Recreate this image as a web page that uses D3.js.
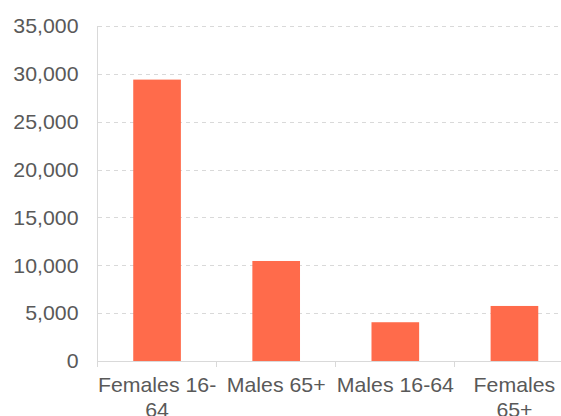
<!DOCTYPE html>
<html>
<head>
<meta charset="utf-8">
<script src="https://cdn.jsdelivr.net/npm/d3@7"></script>
<style>
  html, body { margin: 0; padding: 0; background: #fff; overflow: hidden; }
  svg { display: block; }
  text { font-family: "Liberation Sans", Arial, sans-serif; fill: #595959; }
  line { shape-rendering: crispEdges; }
</style>
</head>
<body>
<svg id="chart" width="561" height="416"></svg>
<script>
// Population groups and their counts
const categories = ["Females 16-64", "Males 65+", "Males 16-64", "Females 65+"];
const values = [29400, 10450, 4050, 5750];
const yTicks = [0, 5000, 10000, 15000, 20000, 25000, 30000, 35000];

const svg = d3.select("#chart");
const plotLeft = 97.5;
const plotRight = 574;
const plotTop = 26;
const plotBottom = 361;
const fontSize = 20;
const stretch = 1.065; // labels are set slightly wide

const x = d3.scaleBand()
  .domain(categories)
  .range([plotLeft, plotRight])
  .paddingInner(0.6)
  .paddingOuter(0.3);

const y = d3.scaleLinear()
  .domain([0, 35000])
  .range([plotBottom, plotTop]);

// Dashed horizontal gridlines
svg.append("g")
  .selectAll("line")
  .data(yTicks.filter(d => d > 0))
  .join("line")
  .attr("x1", plotLeft)
  .attr("x2", plotRight)
  .attr("y1", d => Math.round(y(d)) + 0.5)
  .attr("y2", d => Math.round(y(d)) + 0.5)
  .attr("stroke", "#d9d9d9")
  .attr("stroke-width", 1)
  .attr("stroke-dasharray", "4,4");

// Y axis labels
const fmt = d3.format(",");
svg.append("g")
  .selectAll("text")
  .data(yTicks)
  .join("text")
  .attr("transform", d => `translate(${plotLeft - 19},${y(d)}) scale(${stretch},1)`)
  .attr("text-anchor", "end")
  .attr("dy", "0.36em")
  .style("font-size", fontSize + "px")
  .text(d => fmt(d));

// Vertical axis rule
svg.append("line")
  .attr("x1", plotLeft).attr("x2", plotLeft)
  .attr("y1", plotTop).attr("y2", plotBottom + 6)
  .attr("stroke", "#d9d9d9");

// Bars
svg.append("g")
  .selectAll("rect")
  .data(categories.map((c, i) => ({ c, v: values[i] })))
  .join("rect")
  .attr("x", d => x(d.c))
  .attr("width", x.bandwidth())
  .attr("y", d => y(d.v))
  .attr("height", d => y(0) - y(d.v))
  .attr("fill", "#ff6b4b");

// X axis baseline and category separators
const bandW = (plotRight - plotLeft) / categories.length;
const bandEdges = d3.range(1, categories.length + 1).map(i => plotLeft + i * bandW);
svg.append("line")
  .attr("x1", plotLeft).attr("x2", plotRight)
  .attr("y1", plotBottom + 0.5).attr("y2", plotBottom + 0.5)
  .attr("stroke", "#d9d9d9");
svg.append("g")
  .selectAll("line")
  .data(bandEdges)
  .join("line")
  .attr("x1", d => d).attr("x2", d => d)
  .attr("y1", plotBottom).attr("y2", plotBottom + 6)
  .attr("stroke", "#d9d9d9");

// Category labels, wrapped to the band width after spaces or hyphens
const labels = svg.append("g")
  .selectAll("text")
  .data(categories)
  .join("text")
  .attr("transform", d => `translate(${x(d) + x.bandwidth() / 2},${plotBottom + 31}) scale(${stretch},1)`)
  .attr("text-anchor", "middle")
  .style("font-size", fontSize + "px");

labels.each(function(label) {
  const el = d3.select(this);
  const parts = label.match(/[^\s-]+-?\s*|\s+/g);
  const lines = [];
  let current = "";
  const probe = el.append("tspan");
  parts.forEach(p => {
    const trial = current + p;
    probe.text(trial.trimEnd());
    if (current && probe.node().getComputedTextLength() * stretch > bandW) {
      lines.push(current.trimEnd());
      current = p;
    } else {
      current = trial;
    }
  });
  lines.push(current.trimEnd());
  probe.remove();
  lines.forEach((line, i) => {
    el.append("tspan")
      .attr("x", 0)
      .attr("dy", i === 0 ? 0 : 25)
      .text(line);
  });
});
</script>
</body>
</html>
